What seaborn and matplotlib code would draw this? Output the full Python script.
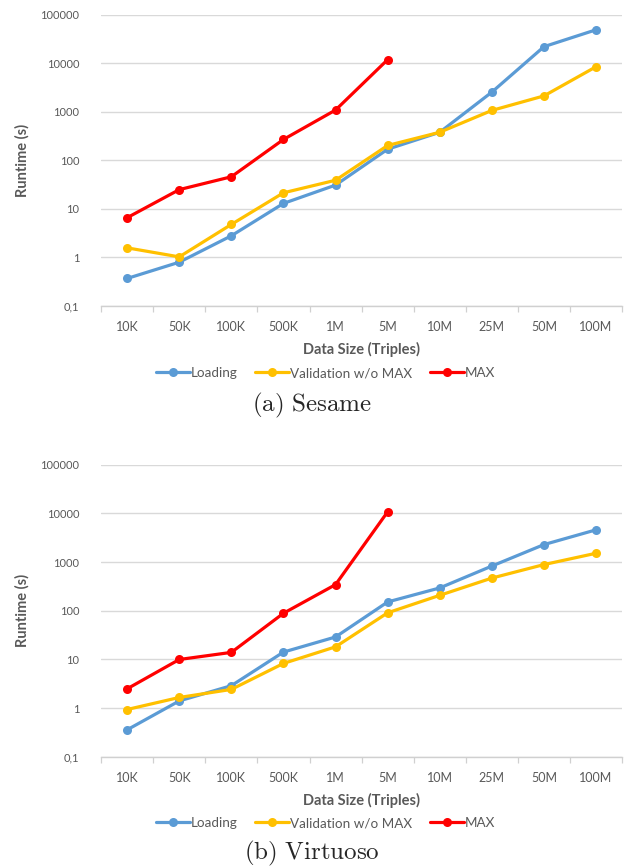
import numpy as np
import pandas as pd
import matplotlib
matplotlib.use("Agg")
import matplotlib.pyplot as plt
from matplotlib.ticker import FixedLocator, FuncFormatter
import seaborn as sns

sizes = ["10K", "50K", "100K", "500K", "1M", "5M", "10M", "25M", "50M", "100M"]
series_names = ["Loading", "Validation w/o MAX", "MAX"]

sesame_loading = [0.37, 0.80, 2.8, 13, 31, 170, 380, 2550, 22000, 49000]
sesame_validation = [1.58, 1.03, 4.8, 21.5, 39, 203, 380, 1070, 2130, 8500]
sesame_max = [6.6, 25, 46, 270, 1090, 11900]

virtuoso_loading = [0.36, 1.41, 2.9, 14.2, 29, 152, 295, 830, 2290, 4600]
virtuoso_validation = [0.94, 1.66, 2.43, 8.3, 18.2, 91, 208, 470, 890, 1520]
virtuoso_max = [2.5, 10, 14, 89, 345, 10800]

palette = {"Loading": "#5B9BD5", "Validation w/o MAX": "#FFC000", "MAX": "#FF0000"}
grey = "#595959"

sns.set_theme(style="white")
plt.rcParams["font.family"] = ["Lato", "DejaVu Sans"]
plt.rcParams["mathtext.fontset"] = "cm"


def long_frame(loading, validation, mx):
    rows = []
    for name, vals in zip(series_names, [loading, validation, mx]):
        for i, v in enumerate(vals):
            rows.append({"pos": i, "size": sizes[i], "runtime": v, "series": name})
    return pd.DataFrame(rows)


def draw_panel(ax, df, caption, cap_y, leg_y):
    sns.lineplot(data=df, x="pos", y="runtime", hue="series",
                 hue_order=series_names, palette=palette, marker="o",
                 markersize=6.5, markeredgewidth=0, linewidth=2.3,
                 ax=ax, legend=True, sort=False)
    ax.set_yscale("log")
    ax.set_ylim(0.1, 100000)
    ax.set_xlim(-0.5, len(sizes) - 0.5)
    yt = [0.1, 1, 10, 100, 1000, 10000, 100000]
    ax.yaxis.set_major_locator(FixedLocator(yt))
    ax.yaxis.set_minor_locator(FixedLocator([]))
    ax.yaxis.set_major_formatter(FuncFormatter(
        lambda v, p: "0,1" if v < 0.5 else f"{int(round(v))}"))
    ax.set_xticks(range(len(sizes)))
    ax.set_xticklabels(sizes)
    ax.xaxis.set_minor_locator(FixedLocator(np.arange(-0.5, len(sizes), 1.0)))
    ax.tick_params(axis="x", which="major", length=0, pad=11,
                   labelsize=9, labelcolor=grey)
    ax.tick_params(axis="x", which="minor", length=4.5, width=0.9,
                   color="#d0d0d0", direction="out", bottom=True)
    ax.tick_params(axis="y", which="major", length=0, pad=15.5,
                   labelsize=8, labelcolor=grey)
    ax.grid(axis="y", color="#d9d9d9", linewidth=1.0)
    ax.set_axisbelow(True)
    for s in ["top", "right", "left"]:
        ax.spines[s].set_visible(False)
    ax.spines["bottom"].set_color("#d0d0d0")
    ax.spines["bottom"].set_linewidth(1.0)
    ax.set_xlabel("Data Size (Triples)", fontsize=10.5, fontweight="bold",
                  color=grey, labelpad=6)
    ax.set_ylabel("Runtime (s)", fontsize=10.5, fontweight="bold",
                  color=grey, labelpad=8)
    handles, labels = ax.get_legend_handles_labels()
    ax.legend_.remove()
    fig.legend(handles, labels, loc="center", bbox_to_anchor=(0.522, leg_y),
               ncol=3, frameon=False, fontsize=9.7, handlelength=2.5,
               handletextpad=0.1, columnspacing=1.3, labelcolor=grey)
    fig.text(0.5, cap_y, caption, ha="center", va="center", fontsize=18)


fig = plt.figure(figsize=(6.24, 8.67), dpi=100)
ax1 = fig.add_axes([0.162, 0.647, 0.835, 0.336])
ax2 = fig.add_axes([0.162, 0.127, 0.835, 0.337])

draw_panel(ax1, long_frame(sesame_loading, sesame_validation, sesame_max),
           r"$\mathrm{(a)\ Sesame}$", 1 - 405 / 867, 1 - 373 / 867)
draw_panel(ax2, long_frame(virtuoso_loading, virtuoso_validation, virtuoso_max),
           r"$\mathrm{(b)\ Virtuoso}$", 1 - 853 / 867, 1 - 823 / 867)

fig.savefig("out.png", dpi=100, facecolor="white")
